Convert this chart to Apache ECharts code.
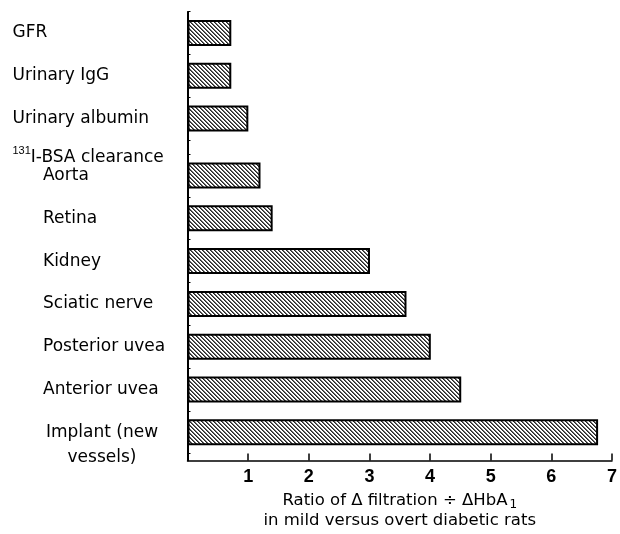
<!DOCTYPE html>
<html>
<head>
<meta charset="utf-8">
<script src="https://cdn.jsdelivr.net/npm/echarts@6/dist/echarts.min.js"></script>
<style>html,body{margin:0;padding:0;background:#fff}#c{width:620px;height:534px}</style>
</head>
<body>
<div id="c"></div>
<script>
// ---- data ----
const topCategories = ['GFR', 'Urinary IgG', 'Urinary albumin'];
const topValues = [0.72, 0.72, 1.0];
const groupHeaderIsotope = '131';
const groupHeaderText = 'I-BSA clearance';
const bottomCategories = ['Aorta', 'Retina', 'Kidney', 'Sciatic nerve', 'Posterior uvea', 'Anterior uvea', 'Implant (new\nvessels)'];
const bottomValues = [1.2, 1.4, 3.0, 3.6, 4.0, 4.5, 6.75];
const xTickLabels = ['1', '2', '3', '4', '5', '6', '7'];
const xTitleLine1 = 'Ratio of Δ filtration ÷ ΔHbA';
const xTitleSub = '1';
const xTitleLine2 = 'in mild versus overt diabetic rats';

// ---- style ----
const FONT = 'DejaVu Sans';
const LEFT = 187.5, RIGHT = 6.7;
const BAND = 42.8;

function makePattern() {
  const c = document.createElement('canvas');
  c.width = 4; c.height = 4;
  const ctx = c.getContext('2d');
  ctx.fillStyle = '#ffffff'; ctx.fillRect(0, 0, 4, 4);
  for (let i = 0; i < 4; i++) {
    ctx.fillStyle = '#262626'; ctx.fillRect(i, i, 1, 1);
    ctx.fillStyle = '#6a6a6a'; ctx.fillRect((i + 1) % 4, i, 1, 1);
  }
  return c;
}
const pattern = { image: makePattern(), repeat: 'repeat' };

const chart = echarts.init(document.getElementById('c'), null, { renderer: 'canvas' });

const topTop = 33 - BAND / 2;
const botTop = 175.5 - BAND / 2;

const barStyle = { color: pattern, borderColor: '#000', borderWidth: 2 };

const catLabel = (margin) => ({
  align: 'left', margin: margin, color: '#000', fontFamily: FONT, fontSize: 17,
  formatter: function (v) {
    if (v.indexOf('\n') >= 0) {
      const parts = v.split('\n');
      return '{c| }\n{c|' + parts[0] + '}\n{c|' + parts[1] + '}';
    }
    return v;
  },
  rich: { c: { width: 118, align: 'center', lineHeight: 25, fontSize: 17, fontFamily: FONT, color: '#000' } }
});

chart.setOption({
  animation: false,
  backgroundColor: '#fff',
  grid: [
    { left: LEFT, right: RIGHT, top: topTop, height: BAND * topCategories.length },
    { left: LEFT, right: RIGHT, top: botTop, height: BAND * bottomCategories.length },
    { left: LEFT, right: RIGHT, top: 12, bottom: 534 - 461 }
  ],
  xAxis: [
    { gridIndex: 0, type: 'value', min: 0, max: 7, show: false },
    { gridIndex: 1, type: 'value', min: 0, max: 7, show: false },
    {
      gridIndex: 2, type: 'value', min: 0, max: 7, interval: 1,
      axisLine: { show: true, lineStyle: { color: '#000', width: 1.5 } },
      axisTick: { show: true, inside: true, length: 7, lineStyle: { color: '#000', width: 1.5 } },
      splitLine: { show: false },
      axisLabel: {
        margin: 7, color: '#000', fontFamily: 'Liberation Sans', fontSize: 18, fontWeight: 'bold',
        formatter: function (v) { return v >= 1 ? xTickLabels[Math.round(v) - 1] : ''; }
      },
      name: '{t|' + xTitleLine1 + '}{s|' + xTitleSub + '}\n{t|' + xTitleLine2 + '}',
      nameLocation: 'middle', nameGap: 24,
      nameTextStyle: {
        rich: {
          t: { fontFamily: FONT, fontSize: 16.5, color: '#000', lineHeight: 20 },
          s: { fontFamily: FONT, fontSize: 12, color: '#000', lineHeight: 20, padding: [8, 0, 0, 2] }
        }
      }
    }
  ],
  yAxis: [
    {
      gridIndex: 0, type: 'category', inverse: true, data: topCategories,
      axisLine: { show: false },
      axisTick: { show: true, inside: true, length: 3, lineStyle: { color: '#000' } },
      axisLabel: catLabel(LEFT - 12.5)
    },
    {
      gridIndex: 1, type: 'category', inverse: true, data: bottomCategories,
      axisLine: { show: false },
      axisTick: { show: true, inside: true, length: 3, lineStyle: { color: '#000' } },
      axisLabel: catLabel(LEFT - 43)
    },
    {
      gridIndex: 2, type: 'value', min: 0, max: 1,
      axisLine: { show: true, lineStyle: { color: '#000', width: 2 } },
      axisTick: { show: false }, axisLabel: { show: false }, splitLine: { show: false }
    }
  ],
  graphic: [{
    type: 'text', left: 12.5, top: 145,
    style: {
      text: '{sup|' + groupHeaderIsotope + '}{n|' + groupHeaderText + '}',
      rich: {
        sup: { fontFamily: 'Liberation Sans', fontSize: 11, color: '#000', verticalAlign: 'top', lineHeight: 20 },
        n: { fontFamily: FONT, fontSize: 17, color: '#000', lineHeight: 20, padding: [4, 0, 0, 0] }
      }
    }
  }],
  series: [
    { type: 'bar', xAxisIndex: 0, yAxisIndex: 0, data: topValues, barWidth: 26, itemStyle: barStyle, silent: true },
    { type: 'bar', xAxisIndex: 1, yAxisIndex: 1, data: bottomValues, barWidth: 26, itemStyle: barStyle, silent: true }
  ]
});
</script>
</body>
</html>
